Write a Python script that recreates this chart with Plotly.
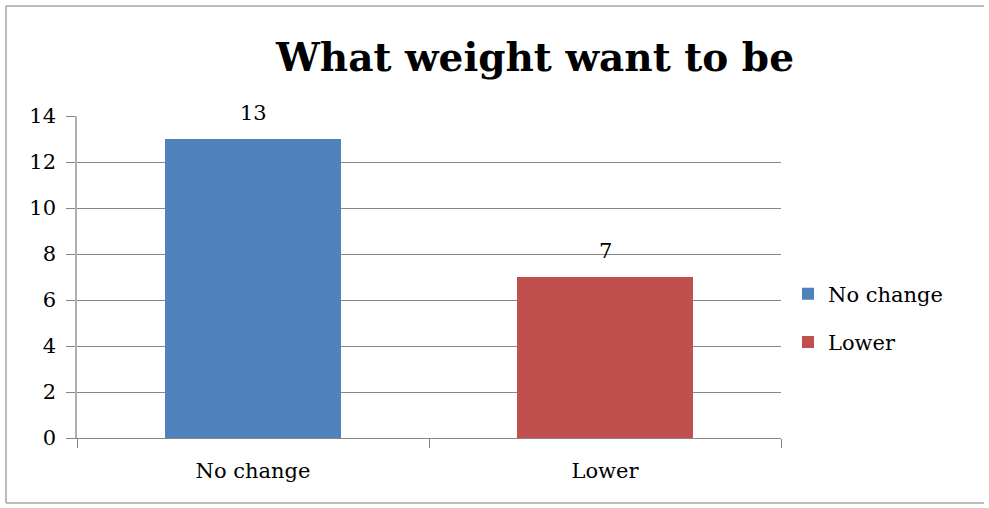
import plotly.graph_objects as go

# Survey responses: what weight the respondents want to be
categories = ["No change", "Lower"]
counts = [13, 7]
colors = ["#4F81BD", "#C0504D"]
y_ticks = [0, 2, 4, 6, 8, 10, 12, 14]

W, H = 989, 508
# plot area edges in pixels
L, R, T, B = 77, 781, 116, 438
PW, PH = R - L, B - T

SERIF = "DejaVu Serif"

fig = go.Figure()
for cat, val, col in zip(categories, counts, colors):
    fig.add_trace(go.Bar(
        x=[cat], y=[val], name=cat, legendgroup=cat,
        marker=dict(color=col, line=dict(width=0)),
        showlegend=True,
    ))
    fig.add_annotation(
        x=cat, y=val, xref="x", yref="y", text=str(val),
        showarrow=False, yanchor="middle", yshift=26,
        font=dict(family=SERIF, size=21, color="#000000"),
    )


def px_x(p):
    return (p - L) / PW


def px_y(p):
    return (B - p) / PH


# outer chart border: left, top and bottom edges
border = dict(color="#A6A6A6", width=1.5)
for x0, y0, x1, y1 in [(6, 6, 6, 503), (6, 6, 984, 6), (6, 503, 984, 503)]:
    fig.add_shape(
        type="line", xref="paper", yref="paper",
        x0=px_x(x0), y0=px_y(y0), x1=px_x(x1), y1=px_y(y1),
        line=border, layer="below",
    )

fig.update_layout(
    width=W, height=H,
    margin=dict(l=L, r=W - R, t=T, b=H - B, pad=0),
    paper_bgcolor="white", plot_bgcolor="white",
    barmode="overlay", bargap=0.5,
    title=dict(
        text="<b>What weight want to be</b>",
        x=535 / W, xref="container", xanchor="center",
        y=1 - 57 / H, yref="container", yanchor="middle",
        font=dict(family=SERIF, size=39, color="#000000"),
    ),
    font=dict(family=SERIF, size=21, color="#000000"),
    legend=dict(
        x=px_x(788), xanchor="left", y=px_y(318), yanchor="middle",
        font=dict(family=SERIF, size=21, color="#000000"),
        tracegroupgap=18, bgcolor="rgba(0,0,0,0)",
        itemclick=False,
    ),
    xaxis=dict(
        categoryorder="array", categoryarray=categories,
        showline=True, linecolor="#868686", linewidth=1,
        ticks="outside", tickson="boundaries", ticklen=9,
        tickcolor="#868686", tickwidth=1, ticklabelstandoff=14,
        showgrid=False, zeroline=False,
        tickfont=dict(family=SERIF, size=21, color="#000000"),
    ),
    yaxis=dict(
        range=[0, 14], tickvals=y_ticks, ticktext=[str(v) for v in y_ticks],
        showline=True, linecolor="#B0B0B0", linewidth=1.5,
        ticks="outside", ticklen=9, tickcolor="#868686", tickwidth=1,
        ticklabelstandoff=6,
        showgrid=True, gridcolor="#868686", gridwidth=1,
        zeroline=False,
        tickfont=dict(family=SERIF, size=21, color="#000000"),
    ),
)

fig.write_html("out.html")
